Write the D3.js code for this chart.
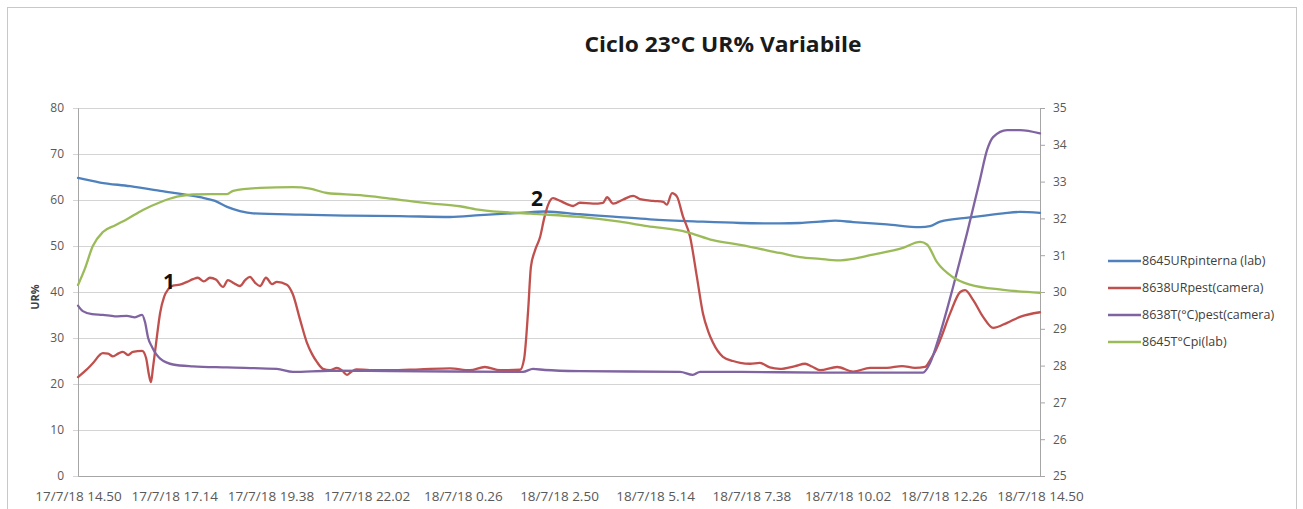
<!DOCTYPE html>
<html>
<head>
<meta charset="utf-8">
<script src="https://cdn.jsdelivr.net/npm/d3@7"></script>
<style>
  html, body { margin: 0; padding: 0; background: #fff; }
  svg { display: block; }
  .tick text { fill: #595959; }
</style>
</head>
<body>
<svg id="chart" width="1303" height="509"></svg>
<script>
// Time axis: hours elapsed since 17/7/18 14.50, labelled every 2 h 24 min
const tickHours = [0, 2.4, 4.8, 7.2, 9.6, 12, 14.4, 16.8, 19.2, 21.6, 24];
const tickLabels = ["17/7/18 14.50", "17/7/18 17.14", "17/7/18 19.38", "17/7/18 22.02",
  "18/7/18 0.26", "18/7/18 2.50", "18/7/18 5.14", "18/7/18 7.38",
  "18/7/18 10.02", "18/7/18 12.26", "18/7/18 14.50"];

const urTicks = [0, 10, 20, 30, 40, 50, 60, 70, 80];
const tTicks = [25, 26, 27, 28, 29, 30, 31, 32, 33, 34, 35];

// 8645URpinterna (lab) — UR%, [hours, value]
const labUR = [[0,64.8],[0.55,63.8],[1.30,63.0],[2.05,62.0],[3.04,60.6],[3.42,59.8],[3.72,58.5],
  [4.04,57.6],[4.37,57.1],[5.54,56.8],[6.79,56.6],[8.03,56.5],[9.28,56.3],[10.03,56.7],
  [11.03,57.2],[11.65,57.5],[12.52,56.9],[13.35,56.4],[14.27,55.8],[15.52,55.3],[16.52,55.0],
  [17.51,54.9],[18.01,55.0],[18.51,55.3],[18.89,55.5],[19.34,55.2],[20.18,54.7],[21.01,54.1],
  [21.26,54.3],[21.51,55.3],[22.25,56.2],[23.08,57.1],[23.50,57.4],[24,57.2]];

// 8638URpest(camera) — UR%, [hours, value]
const cameraUR = [[0,21.5],[0.2,23.0],[0.37,24.5],[0.62,26.7],[0.75,26.6],[0.87,26.0],[1.0,26.6],
  [1.12,27.0],[1.25,26.3],[1.37,27.0],[1.60,27.2],[1.70,25.6],[1.77,22.0],[1.82,20.4],[1.87,23.5],
  [1.95,29.0],[2.05,35.5],[2.15,39.0],[2.25,40.6],[2.37,41.4],[2.54,41.6],[2.72,42.2],[2.87,42.8],
  [2.99,43.1],[3.14,42.3],[3.29,43.1],[3.44,42.7],[3.62,41.1],[3.74,42.6],[3.89,41.9],[4.04,41.3],
  [4.17,42.6],[4.29,43.3],[4.42,42.0],[4.54,41.3],[4.69,43.1],[4.84,41.7],[4.96,42.2],[5.21,41.6],
  [5.36,39.5],[5.54,34.0],[5.71,29.0],[5.84,26.5],[5.96,24.8],[6.11,23.3],[6.29,23.0],[6.46,23.5],
  [6.59,22.9],[6.71,22.0],[6.81,22.6],[6.94,23.2],[7.28,23.0],[7.78,23.0],[8.53,23.2],[9.28,23.4],
  [9.78,23.0],[10.15,23.7],[10.53,23.0],[11.03,23.1],[11.13,25.5],[11.23,36.0],[11.30,45.5],
  [11.40,49.0],[11.53,52.0],[11.63,56.0],[11.73,59.0],[11.85,60.4],[12.03,59.8],[12.20,59.1],
  [12.35,58.7],[12.52,59.4],[12.85,59.2],[13.10,59.4],[13.20,60.6],[13.35,59.2],[13.60,60.1],
  [13.85,60.9],[14.02,60.2],[14.35,59.8],[14.60,59.6],[14.69,59.0],[14.82,61.5],[14.94,60.8],
  [15.09,56.5],[15.27,52.0],[15.44,43.3],[15.59,35.4],[15.72,31.5],[15.84,29.0],[16.09,25.9],
  [16.34,25.0],[16.52,24.6],[16.77,24.4],[17.01,24.6],[17.26,23.6],[17.51,23.3],[17.89,23.9],
  [18.14,24.4],[18.31,23.8],[18.51,23.0],[18.94,23.7],[19.34,22.7],[19.76,23.5],[20.18,23.5],
  [20.56,23.9],[20.88,23.5],[21.13,23.7],[21.26,25.2],[21.38,27.0],[21.51,29.6],[21.76,35.4],
  [22.01,40.0],[22.13,40.4],[22.33,38.3],[22.58,34.6],[22.83,32.2],[23.18,33.3],[23.50,34.6],[24,35.6]];

// 8638T(°C)pest(camera) — °C, [hours, value]
const cameraT = [[0,29.63],[0.12,29.48],[0.35,29.40],[0.62,29.38],[0.92,29.34],[1.22,29.35],
  [1.42,29.31],[1.60,29.38],[1.67,29.19],[1.75,28.75],[1.85,28.50],[1.95,28.31],[2.05,28.19],
  [2.22,28.08],[2.37,28.03],[2.87,27.98],[3.72,27.95],[4.96,27.91],[5.36,27.83],[6.29,27.86],
  [7.78,27.85],[9.28,27.84],[11.10,27.83],[11.35,27.91],[11.65,27.88],[12.52,27.85],[15.02,27.83],
  [15.34,27.75],[15.52,27.83],[16.52,27.83],[18.51,27.81],[21.08,27.81],[21.26,28.08],[21.51,28.88],
  [21.83,30.13],[22.18,31.60],[22.50,33.04],[22.68,33.86],[22.83,34.21],[23.18,34.40],[23.50,34.40],
  [24,34.31]];

// 8645T°Cpi(lab) — °C, [hours, value]
const labT = [[0,30.19],[0.17,30.63],[0.37,31.25],[0.62,31.63],[0.92,31.81],[1.22,31.98],
  [1.62,32.23],[2.05,32.44],[2.47,32.59],[2.87,32.65],[3.29,32.66],[3.72,32.66],[3.87,32.75],
  [4.54,32.83],[5.36,32.85],[5.79,32.81],[6.21,32.69],[7.04,32.63],[7.78,32.54],[8.78,32.41],
  [9.53,32.33],[10.03,32.23],[11.28,32.13],[12.52,32.04],[13.52,31.91],[14.20,31.79],[15.19,31.63],
  [15.84,31.41],[16.52,31.28],[17.51,31.06],[18.01,30.95],[18.51,30.90],[18.94,30.86],[19.38,30.91],
  [19.76,31.00],[20.58,31.20],[21.01,31.36],[21.18,31.29],[21.43,30.81],[21.83,30.40],[22.25,30.20],
  [23.08,30.06],[24,29.98]];

const seriesNames = ["8645URpinterna (lab)", "8638URpest(camera)", "8638T(°C)pest(camera)", "8645T°Cpi(lab)"];
const seriesColors = ["#4F81BD", "#C0504D", "#8064A2", "#9BBB59"];

const svg = d3.select("#chart");
const font = "'Open Sans', 'Liberation Sans', sans-serif";

// chart frame
svg.append("rect").attr("x", 7.5).attr("y", 7.5).attr("width", 1289).attr("height", 520)
  .attr("fill", "#fff").attr("stroke", "#c8c8c8").attr("stroke-width", 1);

const plot = { left: 78, right: 1040, top: 108, bottom: 476 };

const x = d3.scaleLinear().domain([0, 24]).range([plot.left, plot.right]);
const yL = d3.scaleLinear().domain([0, 80]).range([plot.bottom, plot.top]);
const yR = d3.scaleLinear().domain([25, 35]).range([plot.bottom, plot.top]);

// horizontal gridlines
svg.append("g").selectAll("line").data(urTicks.filter(d => d > 0)).join("line")
  .attr("x1", plot.left).attr("x2", plot.right)
  .attr("y1", d => Math.round(yL(d)) + 0.5).attr("y2", d => Math.round(yL(d)) + 0.5)
  .attr("stroke", "#d4d4d4").attr("stroke-width", 1);

// left axis
const gL = svg.append("g").attr("transform", `translate(${plot.left},0)`)
  .call(d3.axisLeft(yL).tickValues(urTicks).tickSize(5).tickPadding(9));
// right axis
const gR = svg.append("g").attr("transform", `translate(${plot.right},0)`)
  .call(d3.axisRight(yR).tickValues(tTicks).tickSize(5).tickPadding(8));
// bottom axis
const gB = svg.append("g").attr("transform", `translate(0,${plot.bottom})`)
  .call(d3.axisBottom(x).tickValues(tickHours).tickFormat((d, i) => tickLabels[i]).tickSize(0).tickPadding(15));

[gL, gR, gB].forEach(g => {
  g.selectAll(".domain").attr("stroke", "#a6a6a6");
  g.selectAll(".tick line").attr("stroke", "#a6a6a6");
  g.selectAll("text").attr("font-family", font).attr("font-size", 12).attr("fill", "#595959");
});
gB.selectAll("text").attr("font-size", 13.5).attr("fill", "#4d4d4d");
gL.selectAll(".tick line").attr("stroke", "#d4d4d4");

// series lines
const lineL = d3.line().x(d => x(d[0])).y(d => yL(d[1])).curve(d3.curveMonotoneX);
const lineR = d3.line().x(d => x(d[0])).y(d => yR(d[1])).curve(d3.curveMonotoneX);

const drawn = [
  { data: labUR, gen: lineL, color: seriesColors[0] },
  { data: cameraUR, gen: lineL, color: seriesColors[1] },
  { data: cameraT, gen: lineR, color: seriesColors[2] },
  { data: labT, gen: lineR, color: seriesColors[3] }
];
svg.append("g").selectAll("path").data(drawn).join("path")
  .attr("d", d => d.gen(d.data))
  .attr("fill", "none").attr("stroke", d => d.color)
  .attr("stroke-width", 2.3).attr("stroke-linejoin", "round").attr("stroke-linecap", "round");

// title
const title = svg.append("text").attr("x", 723).attr("y", 52).attr("text-anchor", "middle")
  .attr("font-family", font).attr("font-weight", "bold").attr("font-size", 22)
  .attr("fill", "#1a1a1a").text("Ciclo 23°C UR% Variabile");
title.attr("textLength", 277).attr("lengthAdjust", "spacingAndGlyphs");

// left axis title
svg.append("text").attr("transform", "translate(39,297) rotate(-90)")
  .attr("text-anchor", "middle").attr("font-family", font).attr("font-weight", "bold")
  .attr("font-size", 11).attr("fill", "#404040").text("UR%");

// step markers
svg.append("text").attr("x", 169).attr("y", 289).attr("text-anchor", "middle")
  .attr("font-family", font).attr("font-weight", "bold").attr("font-size", 21).attr("fill", "#111").text("1");
svg.append("text").attr("x", 537).attr("y", 206).attr("text-anchor", "middle")
  .attr("font-family", font).attr("font-weight", "bold").attr("font-size", 21).attr("fill", "#111").text("2");

// legend
const legend = svg.append("g").attr("transform", "translate(1108,261)");
const items = legend.selectAll("g").data(seriesNames).join("g")
  .attr("transform", (d, i) => `translate(0,${i * 27})`);
items.append("line").attr("x1", 0).attr("x2", 33).attr("y1", 0).attr("y2", 0)
  .attr("stroke", (d, i) => seriesColors[i]).attr("stroke-width", 2.3);
items.append("text").attr("x", 34).attr("y", 0).attr("dy", "0.35em")
  .attr("font-family", font).attr("font-size", 12.5).attr("fill", "#404040").text(d => d);
</script>
</body>
</html>
